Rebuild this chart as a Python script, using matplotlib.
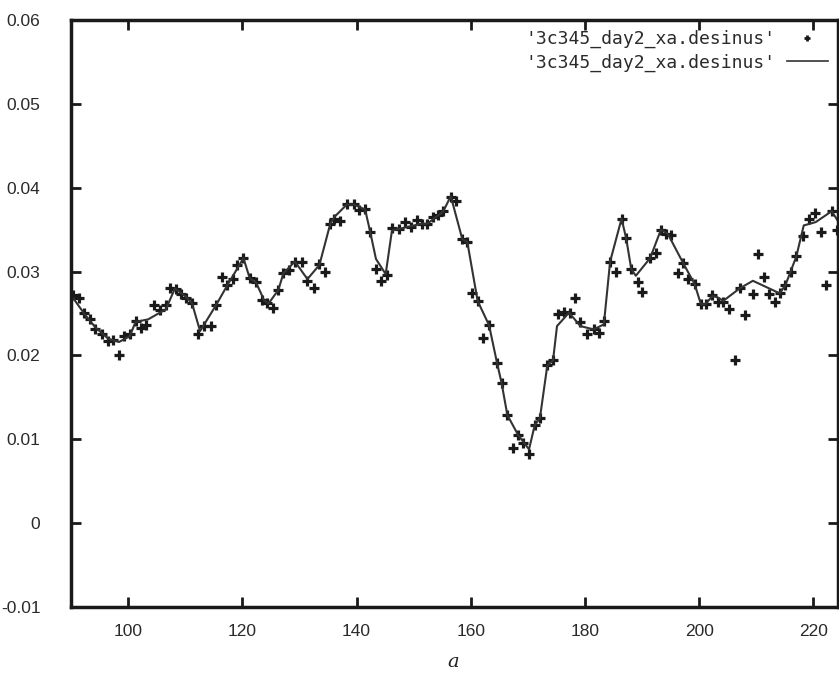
import matplotlib
matplotlib.use('Agg')
import matplotlib.pyplot as plt
from matplotlib.lines import Line2D

# measured points
pts_x = [90.4, 91.4, 92.3, 93.3, 94.2, 95.5, 96.5, 97.4, 98.4, 99.3,
         100.3, 101.3, 102.2, 103.2, 104.5, 105.5, 106.6, 107.4, 108.4, 109.2,
         110.1, 111.2, 112.3, 113.3, 114.5, 115.4, 116.4, 117.4, 118.4, 119.1,
         120.2, 121.3, 122.4, 123.4, 124.4, 125.3, 126.3, 127.2, 128.2, 129.2,
         130.4, 131.4, 132.5, 133.5, 134.5, 135.4, 136.1, 137.1, 138.3, 139.5,
         140.5, 141.5, 142.4, 143.4, 144.3, 145.3, 146.2, 147.5, 148.5, 149.5,
         150.5, 151.4, 152.4, 153.3, 154.3, 155.2, 156.5, 157.4, 158.5, 159.4,
         160.3, 161.2, 162.2, 163.2, 164.6, 165.4, 166.4, 167.4, 168.3, 169.2,
         170.2, 171.2, 172.1, 173.4, 174.4, 175.3, 176.3, 177.3, 178.3, 179.2,
         180.3, 181.5, 182.5, 183.3, 184.4, 185.4, 186.4, 187.2, 188.1, 189.2,
         190.0, 191.4, 192.4, 193.3, 194.2, 195.1, 196.2, 197.2, 198.1, 199.2,
         200.3, 201.2, 202.2, 203.3, 204.2, 205.2, 206.2, 207.1, 208.1, 209.4,
         210.3, 211.3, 212.3, 213.2, 214.1, 215.1, 216.1, 217.0, 218.2, 219.2,
         220.3, 221.3, 222.2, 223.2, 224.1]
pts_y = [0.0272, 0.0268, 0.0250, 0.0243, 0.0232, 0.0225, 0.0217, 0.0218, 0.0200, 0.0223,
         0.0225, 0.0241, 0.0233, 0.0236, 0.0260, 0.0254, 0.0260, 0.0280, 0.0279, 0.0273,
         0.0269, 0.0262, 0.0225, 0.0235, 0.0235, 0.0260, 0.0293, 0.0284, 0.0291, 0.0308,
         0.0316, 0.0292, 0.0287, 0.0266, 0.0262, 0.0257, 0.0278, 0.0298, 0.0302, 0.0312,
         0.0312, 0.0289, 0.0280, 0.0309, 0.0300, 0.0357, 0.0363, 0.0360, 0.0380, 0.0380,
         0.0374, 0.0375, 0.0347, 0.0303, 0.0289, 0.0296, 0.0352, 0.0351, 0.0359, 0.0353,
         0.0361, 0.0357, 0.0357, 0.0365, 0.0368, 0.0372, 0.0389, 0.0384, 0.0339, 0.0335,
         0.0275, 0.0265, 0.0221, 0.0236, 0.0191, 0.0167, 0.0129, 0.0090, 0.0105, 0.0095,
         0.0083, 0.0117, 0.0125, 0.0188, 0.0194, 0.0249, 0.0252, 0.0250, 0.0268, 0.0240,
         0.0225, 0.0232, 0.0227, 0.0241, 0.0312, 0.0300, 0.0363, 0.0340, 0.0303, 0.0287,
         0.0276, 0.0316, 0.0322, 0.0350, 0.0345, 0.0344, 0.0298, 0.0310, 0.0291, 0.0285,
         0.0261, 0.0261, 0.0272, 0.0264, 0.0264, 0.0255, 0.0194, 0.0280, 0.0248, 0.0273,
         0.0321, 0.0293, 0.0273, 0.0264, 0.0274, 0.0284, 0.0299, 0.0318, 0.0343, 0.0363,
         0.0370, 0.0347, 0.0284, 0.0372, 0.0350]

# smoothed curve
line_x = [90.0, 92.3, 94.2, 96.5, 98.4, 100.3, 101.3, 103.5, 106.6, 108.2,
          110.1, 111.2, 112.6, 115.4, 117.4, 120.2, 121.3, 122.4, 123.8, 124.6,
          126.3, 127.2, 129.2, 131.4, 133.5, 135.4, 136.1, 138.3, 139.5, 141.5,
          142.4, 143.4, 145.1, 146.2, 147.5, 151.3, 152.4, 155.2, 156.5, 158.5,
          159.4, 161.2, 163.2, 164.6, 165.4, 166.4, 168.3, 170.2, 171.2, 172.1,
          173.4, 174.4, 175.1, 177.2, 179.2, 181.5, 183.3, 184.4, 186.4, 187.2,
          188.1, 188.9, 191.4, 193.3, 194.5, 197.2, 199.2, 200.3, 201.1, 202.3,
          203.3, 204.2, 207.1, 209.4, 214.1, 215.1, 217.0, 218.3, 220.4, 223.2,
          224.5]
line_y = [0.0272, 0.0250, 0.0234, 0.0220, 0.0216, 0.0223, 0.0240, 0.0243, 0.0255, 0.0280,
          0.0270, 0.0262, 0.0229, 0.0260, 0.0284, 0.0316, 0.0292, 0.0287, 0.0266, 0.0262,
          0.0278, 0.0298, 0.0312, 0.0291, 0.0308, 0.0357, 0.0365, 0.0380, 0.0380, 0.0374,
          0.0347, 0.0315, 0.0297, 0.0349, 0.0351, 0.0357, 0.0357, 0.0372, 0.0390, 0.0339,
          0.0335, 0.0265, 0.0236, 0.0191, 0.0167, 0.0129, 0.0105, 0.0088, 0.0117, 0.0125,
          0.0188, 0.0194, 0.0235, 0.0251, 0.0235, 0.0231, 0.0237, 0.0312, 0.0363, 0.0340,
          0.0303, 0.0295, 0.0316, 0.0350, 0.0345, 0.0310, 0.0285, 0.0261, 0.0261, 0.0271,
          0.0269, 0.0265, 0.0280, 0.0289, 0.0274, 0.0284, 0.0318, 0.0355, 0.0359, 0.0372,
          0.0358]

x_ticks = [100, 120, 140, 160, 180, 200, 220]
y_ticks = [-0.01, 0, 0.01, 0.02, 0.03, 0.04, 0.05, 0.06]
y_labels = ['-0.01', '0', '0.01', '0.02', '0.03', '0.04', '0.05', '0.06']
series_name = "'3c345_day2_xa.desinus'"

TICKFONT = 'Liberation Sans'
MONO = 'DejaVu Sans Mono'

fig = plt.figure(figsize=(8.39, 6.81), dpi=100)
ax = fig.add_axes([71 / 839, 74 / 681, 767 / 839, 587 / 681])

ax.plot(pts_x, pts_y, linestyle='none', marker='+', markersize=6.5,
        markeredgewidth=2.3, color='#1a1a1a')
ax.plot(line_x, line_y, color='#333333', linewidth=1.5)

ax.set_xlim(90, 224.3)
ax.set_ylim(-0.01, 0.06)
ax.set_xticks(x_ticks)
ax.set_xticklabels([str(t) for t in x_ticks], fontfamily=TICKFONT, fontsize=12.5)
ax.set_yticks(y_ticks)
ax.set_yticklabels(y_labels, fontfamily=TICKFONT, fontsize=12.5)
ax.tick_params(direction='in', length=7, width=2, top=True, right=True,
               color='#1a1a1a', labelcolor='#2a2a2a')
ax.tick_params(axis='x', pad=12)
ax.tick_params(axis='y', pad=22)
for s in ax.spines.values():
    s.set_linewidth(2.5)
    s.set_color('#1a1a1a')

handles = [
    Line2D([], [], linestyle='none', marker='+', markersize=5,
           markeredgewidth=2, color='#1a1a1a'),
    Line2D([], [], color='#333333', linewidth=1.2),
]
ax.legend(handles, [series_name, series_name], loc='upper right',
          markerfirst=False, frameon=False, handlelength=2.3,
          handletextpad=0.6, prop={'family': MONO, 'size': 13},
          labelspacing=0.3, borderaxespad=0.15, labelcolor='#2a2a2a')

fig.text(453 / 839, 1 - 662 / 681, 'a', fontfamily='DejaVu Serif',
         fontstyle='italic', fontsize=14, ha='center', va='center', color='#222222')

fig.savefig('out.png', dpi=100)
